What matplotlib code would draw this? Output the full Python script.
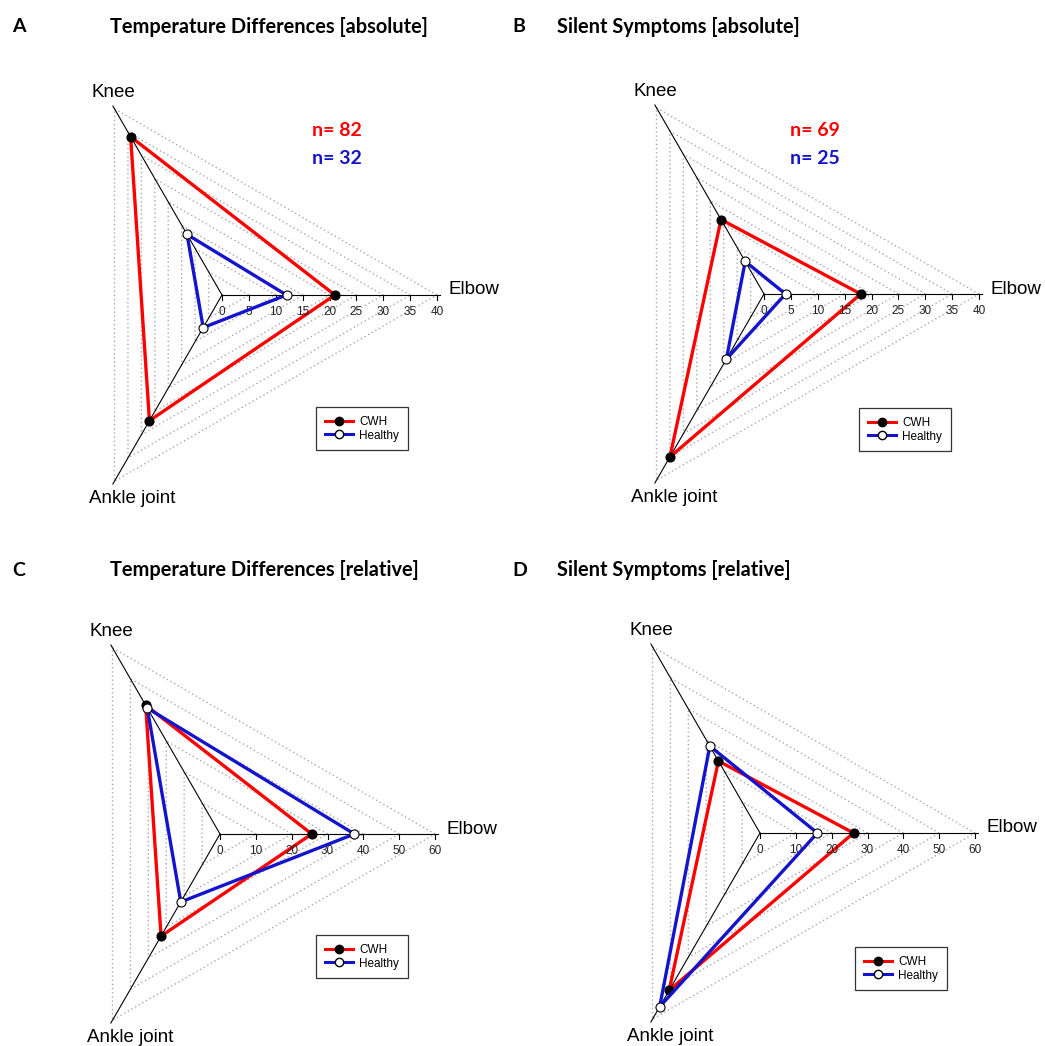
import numpy as np
import matplotlib
matplotlib.use("Agg")
import matplotlib.pyplot as plt
from matplotlib.lines import Line2D

plt.rcParams['font.family'] = ['Liberation Sans', 'DejaVu Sans']

# joints on the three spokes (Elbow 0 deg, Knee 120 deg, Ankle 240 deg)
joints = ['Elbow', 'Knee', 'Ankle joint']
angles = np.deg2rad([0, 120, 240])

# A: temperature differences, absolute counts
temp_abs_cwh = [21, 34, 27]
temp_abs_healthy = [12, 13, 7]
# B: silent symptoms, absolute counts
silent_abs_cwh = [18, 16, 35]
silent_abs_healthy = [4, 7, 14]
# C: temperature differences, percent
temp_rel_cwh = [25.6, 41.5, 32.9]
temp_rel_healthy = [37.5, 40.6, 21.9]
# D: silent symptoms, percent
silent_rel_cwh = [26.1, 23.2, 50.7]
silent_rel_healthy = [16, 28, 56]

n_temp = ['n= 82', 'n= 32']
n_silent = ['n= 69', 'n= 25']

RED = '#ff0000'
BLUE = '#1414cc'
W, H = 1045, 1046

fig = plt.figure(figsize=(W / 100, H / 100), dpi=100)


def radar(cx, cy, rmax, step, cwh, healthy, legend_px, nlabels=None, n_px=None):
    s = 215.0 / rmax  # pixels per data unit
    lp, rp, up, dp = 160, 300, 230, 230
    ax = fig.add_axes([(cx - lp) / W, (H - (cy + dp)) / H, (lp + rp) / W, (up + dp) / H])
    ax.set_xlim(-lp / s, rp / s)
    ax.set_ylim(-dp / s, up / s)
    ax.axis('off')

    # dotted triangular grid
    for r in np.arange(step, rmax + step / 2, step):
        gx = list(r * np.cos(angles)) + [r]
        gy = list(r * np.sin(angles)) + [0]
        ax.plot(gx, gy, color='#a8a8a8', lw=1.0, ls=(0, (1, 2)), zorder=1)

    # spokes
    L = rmax * 1.015
    for a in angles:
        ax.plot([0, L * np.cos(a)], [0, L * np.sin(a)], color='black', lw=0.8, zorder=2)

    # ticks on the elbow spoke
    for r in np.arange(0, rmax + 1, step):
        ax.plot([r, r], [0, -5 / s], color='black', lw=0.8, zorder=2)
        ax.text(r, -17 / s, str(int(r)), ha='center', va='center', fontsize=8.5,
                color='#222222', zorder=5)

    # spoke labels
    ex, ey = L * np.cos(angles), L * np.sin(angles)
    ax.text(ex[0] + 8 / s, ey[0] + 5 / s, joints[0], ha='left', va='center', fontsize=13.5)
    ax.text(ex[1], ey[1] + 14 / s, joints[1], ha='center', va='center', fontsize=13.5)
    ax.text(ex[2] - 24 / s, ey[2] - 15 / s, joints[2], ha='left', va='center', fontsize=13.5)

    # data polygons
    for vals, col, face, z in [(cwh, RED, 'black', 3), (healthy, BLUE, 'white', 5)]:
        v = np.array(vals)
        px = v * np.cos(angles)
        py = v * np.sin(angles)
        ax.plot(list(px) + [px[0]], list(py) + [py[0]], color=col, lw=2.4, zorder=z,
                solid_joinstyle='miter')
        ax.plot(px, py, 'o', ms=6.5, mfc=face, mec='black', mew=0.8, zorder=z + 1)

    if nlabels:
        ax.text(n_px[0] / s, n_px[1] / s, nlabels[0], color=RED, ha='center', va='center',
                fontsize=14, fontweight='bold', family='Lato')
        ax.text(n_px[0] / s, (n_px[1] - 27) / s, nlabels[1], color=BLUE, ha='center',
                va='center', fontsize=14, fontweight='bold', family='Lato')

    handles = [Line2D([], [], color=RED, lw=2.2, marker='o', ms=6, mfc='black', mec='black'),
               Line2D([], [], color=BLUE, lw=2.2, marker='o', ms=6, mfc='white', mec='black')]
    leg = ax.legend(handles, ['CWH', 'Healthy'], loc='upper left',
                    bbox_to_anchor=(legend_px[0] / W, 1 - legend_px[1] / H),
                    bbox_transform=fig.transFigure, borderaxespad=0, fontsize=8.5,
                    fancybox=False, framealpha=1, edgecolor='#333333', handlelength=2.4,
                    handletextpad=0.5, labelspacing=0.15, borderpad=0.75, numpoints=1)
    leg.get_frame().set_linewidth(0.9)
    return ax


radar(222, 295, 40, 5, temp_abs_cwh, temp_abs_healthy, (316, 407), n_temp, (115, 164))
radar(764, 294, 40, 5, silent_abs_cwh, silent_abs_healthy, (859, 408), n_silent, (51, 163))
radar(220, 834, 60, 10, temp_rel_cwh, temp_rel_healthy, (316, 935))
radar(760, 833, 60, 10, silent_rel_cwh, silent_rel_healthy, (855, 947))

titles = [('A', 12, 27, 110, 'Temperature Differences [absolute]'),
          ('B', 512, 27, 557, 'Silent Symptoms [absolute]'),
          ('C', 12, 570, 110, 'Temperature Differences [relative]'),
          ('D', 512, 570, 557, 'Silent Symptoms [relative]')]
for letter, lx, ty, tx, title in titles:
    fig.text(lx / W, 1 - ty / H, letter, ha='left', va='center', fontsize=14,
             fontweight='bold', family='Lato')
    fig.text(tx / W, 1 - ty / H, title, ha='left', va='center', fontsize=14.4,
             fontweight='bold', family='Lato')

fig.savefig('out.png', dpi=100)
